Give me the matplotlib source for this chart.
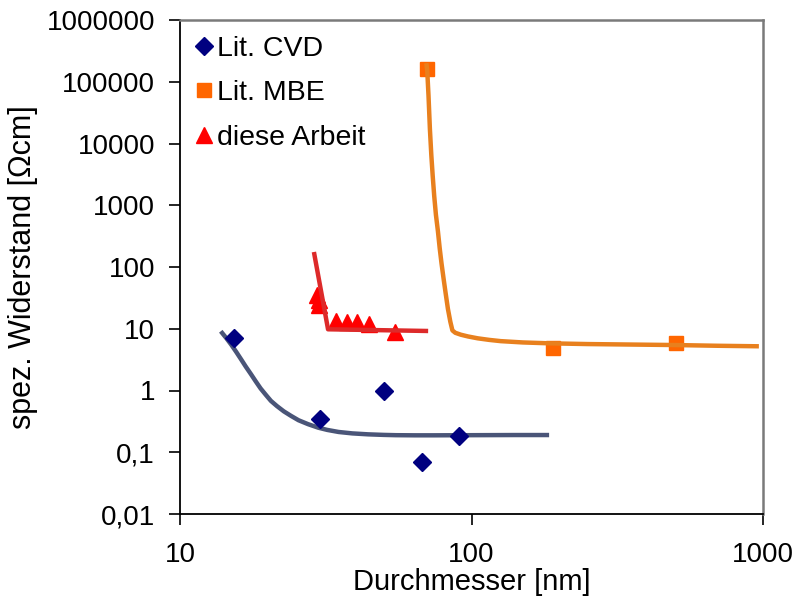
import numpy as np
import matplotlib
matplotlib.use('Agg')
import matplotlib.pyplot as plt
from matplotlib.ticker import FixedLocator, NullLocator

plt.rcParams['font.family'] = ['Liberation Sans', 'DejaVu Sans']

# Lit. CVD
cvd_d = [15.3, 30.2, 50.0, 67.5, 90.5]
cvd_r = [7.2, 0.34, 0.98, 0.070, 0.185]
# fit curve
cvd_fit_d = [13.8, 14.4, 15.0, 15.6, 16.2, 16.8, 17.5, 18.2, 18.9, 19.7, 20.5, 21.5, 22.7,
             24.0, 25.5, 27.5, 29.8, 32.0, 35.0, 39.0, 44.2, 50.0, 55.0, 64.0, 74.6, 100.0,
             140.0, 184.6]
cvd_fit_r = [9.1, 7.1, 5.5, 4.2, 3.2, 2.45, 1.85, 1.4, 1.08, 0.85, 0.68, 0.56, 0.46,
             0.39, 0.33, 0.285, 0.25, 0.23, 0.213, 0.202, 0.195, 0.191, 0.189, 0.188, 0.188, 0.189,
             0.19, 0.19]

# Lit. MBE
mbe_d = [70.3, 190.0, 503.0]
mbe_r = [160000, 4.9, 5.9]
mbe_fit_d = [70.0, 70.5, 71.2, 72.0, 72.8, 73.6, 74.5, 75.5, 76.7, 77.8, 78.9, 80.2, 81.5,
             83.0, 84.6, 86.0, 88.0, 92.0, 97.3, 105.0, 115.0, 126.0, 150.0, 187.0, 250.0,
             350.0, 495.0, 700.0, 968.0]
mbe_fit_r = [200000, 150000, 60000, 17000, 6500, 3000, 1400, 700, 380, 200, 115, 65, 38,
             21, 13, 9.4, 8.6, 8.0, 7.5, 7.0, 6.6, 6.3, 6.0, 5.8, 5.65, 5.55, 5.45, 5.3, 5.2]

# diese Arbeit
arb_d = [29.5, 30.0, 30.0, 34.3, 37.4, 40.4, 44.5, 54.7]
arb_r = [35.0, 29.0, 24.0, 13.2, 13.0, 13.0, 11.8, 8.9]
arb_fit_d = [28.8, 32.2, 71.0]
arb_fit_r = [175, 9.8, 9.2]

yticks = [0.01, 0.1, 1, 10, 100, 1000, 10000, 100000, 1000000]
ylabels = ['0,01', '0,1', '1', '10', '100', '1000', '10000', '100000', '1000000']
xticks = [10, 100, 1000]
xlabels = ['10', '100', '1000']

fig = plt.figure(figsize=(7.98, 5.98), dpi=100)
ax = fig.add_axes([180/798, 1-514/598, 583/798, 494/598])

ax.plot(cvd_fit_d, cvd_fit_r, color='#4a5578', lw=3.2, solid_capstyle='butt', zorder=2)
ax.plot(mbe_fit_d, mbe_fit_r, color='#e8801e', lw=3.2, solid_capstyle='butt', zorder=2)
ax.plot(arb_fit_d, arb_fit_r, color='#dd2a2a', lw=3.2, solid_capstyle='butt', zorder=3)

ax.plot(cvd_d, cvd_r, 'D', color='#000080', ms=9, ls='none', label='Lit. CVD', zorder=4)
ax.plot(mbe_d, mbe_r, 's', color='#ff6600', ms=10.5, ls='none', label='Lit. MBE', zorder=1)
ax.plot(arb_d, arb_r, '^', color='#ff0000', ms=11, ls='none', label='diese Arbeit', zorder=2)

ax.set_xscale('log')
ax.set_yscale('log')
ax.set_xlim(10, 1000)
ax.set_ylim(0.01, 1000000)
ax.xaxis.set_major_locator(FixedLocator(xticks))
ax.xaxis.set_minor_locator(NullLocator())
ax.set_xticklabels(xlabels)
ax.yaxis.set_major_locator(FixedLocator(yticks))
ax.yaxis.set_minor_locator(NullLocator())
ax.set_yticklabels(ylabels)
ax.tick_params(axis='both', direction='out', length=8, width=1.2, labelsize=20, pad=10)
ax.tick_params(axis='x', pad=12)

for side in ['left', 'bottom']:
    ax.spines[side].set_color('black')
    ax.spines[side].set_linewidth(1.3)
for side in ['top', 'right']:
    ax.spines[side].set_color('#7a7a7a')
    ax.spines[side].set_linewidth(1.8)

ax.set_xlabel('Durchmesser [nm]', fontsize=21, labelpad=0)
ax.set_ylabel('spez. Widerstand [Ωcm]', fontsize=22, labelpad=6)

ax.legend(loc='upper left', bbox_to_anchor=(0.0, 1.0), frameon=False, fontsize=20.5,
          handlelength=0.6, handletextpad=0.15, labelspacing=0.65, borderaxespad=0.3,
          borderpad=0.25)

fig.savefig('out.png', dpi=100)
